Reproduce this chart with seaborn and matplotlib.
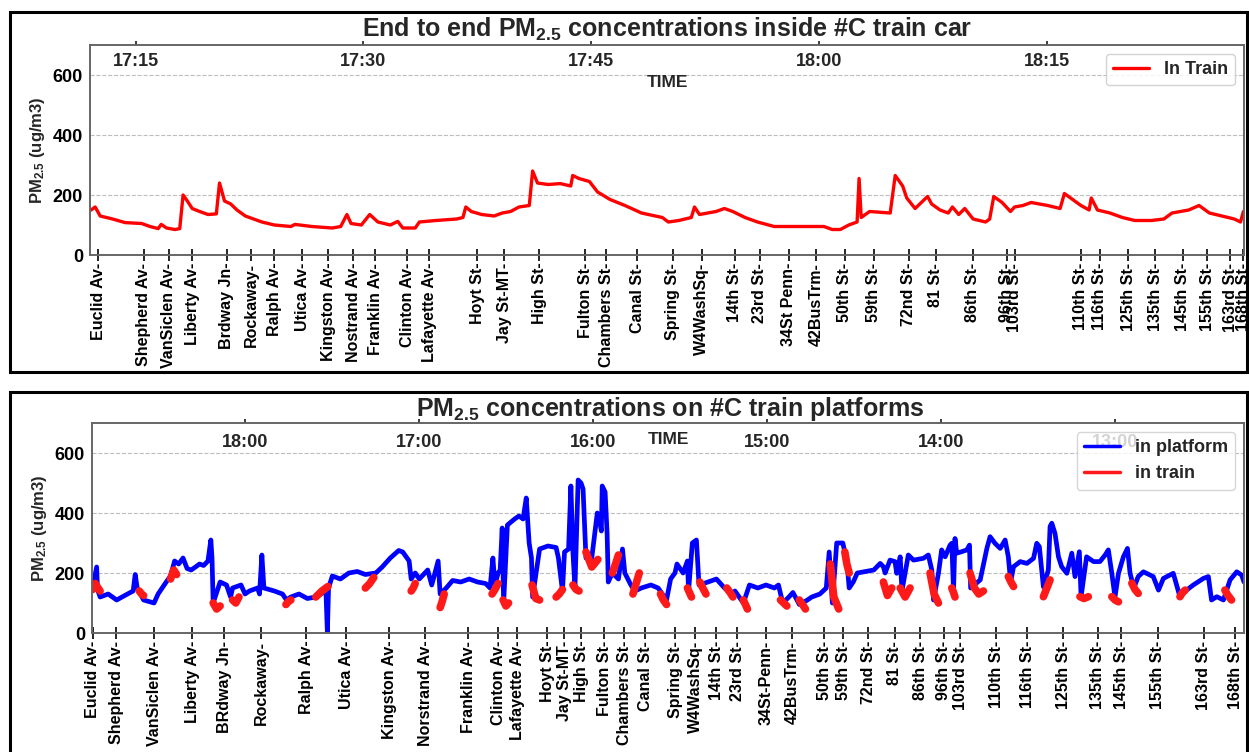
import matplotlib
matplotlib.use("Agg")
import matplotlib.pyplot as plt
import seaborn as sns
import pandas as pd
from matplotlib.patches import Rectangle

# ---------------- top panel data (minutes after 17:00) ----------------
train_min = [12.07, 12.34, 12.67, 13.49, 14.31, 15.40, 15.95, 16.49, 16.69, 17.04, 17.59, 17.91,
             18.13, 18.41, 18.73, 19.22, 19.77, 20.32, 20.53, 20.86, 21.27, 21.68, 22.23, 22.77,
             23.32, 24.14, 25.23, 25.50, 26.60, 27.96, 28.51, 28.92, 29.19, 29.87, 30.42, 30.96,
             31.78, 32.27, 32.60, 33.42, 33.69, 34.78, 36.15, 36.56, 36.75, 37.11, 37.79, 38.61,
             39.15, 39.70, 40.25, 40.93, 41.15, 41.47, 42.16, 42.98, 43.66, 43.79, 44.20, 44.89,
             45.43, 46.25, 47.23, 48.32, 49.69, 50.09, 50.78, 51.60, 51.81, 52.14, 53.23, 53.78,
             54.33, 55.14, 55.96, 57.06, 59.24, 60.33, 60.88, 61.42, 61.97, 62.52, 62.65, 62.79,
             63.34, 64.70, 65.03, 65.52, 65.79, 66.34, 67.16, 67.43, 67.98, 68.52, 68.80, 69.21,
             69.61, 70.16, 70.98, 71.25, 71.52, 72.07, 72.62, 72.89, 73.44, 73.98, 74.53, 75.07,
             75.89, 76.17, 76.71, 77.26, 77.80, 77.94, 78.35, 79.17, 79.99, 80.81, 81.90, 82.72,
             83.26, 84.36, 85.04, 85.72, 86.54, 87.36, 87.77, 87.96]
train_pm = [150, 160, 130, 120, 108, 105, 95, 88, 102, 90, 85, 88,
            200, 180, 155, 145, 135, 137, 240, 180, 170, 150, 130, 120,
            110, 100, 95, 102, 95, 90, 95, 135, 105, 100, 135, 110,
            100, 112, 90, 90, 110, 115, 120, 125, 160, 145, 135, 130,
            140, 145, 160, 165, 280, 240, 235, 238, 230, 265, 255, 245,
            210, 185, 165, 140, 125, 110, 115, 125, 160, 135, 145, 155,
            145, 125, 110, 95, 95, 95, 85, 85, 100, 110, 255, 125,
            145, 140, 265, 230, 190, 155, 195, 170, 150, 140, 160, 135,
            155, 120, 110, 120, 195, 175, 145, 160, 165, 175, 170, 165,
            155, 205, 185, 165, 150, 190, 150, 140, 125, 115, 115, 120,
            140, 150, 165, 140, 130, 120, 110, 145]

top_stations = ["Euclid Av", "Shepherd Av", "VanSiclen Av", "Liberty Av", "Brdway Jn", "Rockaway",
                "Ralph Av", "Utica Av", "Kingston Av", "Nostrand Av", "Franklin Av", "Clinton Av",
                "Lafayette Av", "Hoyt St", "Jay St-MT", "High St", "Fulton St", "Chambers St",
                "Canal St", "Spring St", "W4WashSq", "14th St", "23rd St", "34St Penn", "42BusTrm",
                "50th St", "59th St", "72nd St", "81 St", "86th St", "96th St", "103rd St",
                "110th St", "116th St", "125th St", "135th St", "145th St", "155th St",
                "163rd St", "168th St"]
top_station_min = [12.53, 15.53, 17.17, 18.75, 20.99, 22.63, 24.14, 25.99, 27.70, 29.34, 30.79,
                   32.89, 34.34, 37.50, 39.28, 41.58, 44.61, 45.99, 48.03, 50.39, 52.30, 54.47,
                   56.12, 58.03, 59.80, 61.71, 63.62, 65.92, 67.70, 70.13, 72.37, 72.89, 77.24,
                   78.49, 80.39, 82.17, 83.95, 85.59, 87.11, 87.95]
top_time_min = [15, 30, 45, 60, 75]
top_time_labels = ["17:15", "17:30", "17:45", "18:00", "18:15"]

# ---------------- bottom panel data (minutes after 12:00) ----------------
plat_min = [412.7, 411.3, 411.0, 410.1, 407.3, 404.4, 401.6, 398.7, 398.0, 397.3, 395.1, 391.5,
            390.1, 388.7, 387.3, 385.8, 384.4, 383.0, 381.5, 380.1, 378.7, 377.2, 375.8, 374.4,
            372.9, 371.9, 371.5, 371.1, 368.7, 366.5, 365.1, 364.4, 361.5, 360.1, 358.6, 355.8,
            355.1, 354.3, 353.6, 350.0, 347.2, 345.8, 344.3, 341.5, 338.6, 335.7, 332.2, 331.7,
            331.3, 330.0, 327.2, 324.3, 321.4, 318.6, 315.0, 312.8, 310.0, 307.1, 305.7, 303.5,
            302.8, 301.4, 300.0, 297.1, 295.7, 293.5, 292.8, 290.7, 288.5, 285.7, 282.8, 279.9,
            277.1, 275.6, 274.6, 273.9, 272.8, 272.1, 271.4, 270.9, 269.6, 267.1, 265.6, 264.2,
            263.1, 262.1, 261.3, 260.9, 258.5, 255.6, 252.8, 252.0, 250.6, 249.9, 248.5, 247.7,
            247.0, 246.3, 245.2, 244.2, 243.5, 242.7, 242.5, 240.5, 238.6, 237.9, 237.2, 236.9,
            235.9, 235.2, 234.8, 233.4, 231.3, 229.9, 229.1, 227.0, 225.6, 223.4, 220.1, 217.6,
            214.7, 213.3, 211.8, 211.1, 209.0, 207.5, 207.1, 205.8, 204.4, 203.5, 200.4, 197.5,
            194.7, 192.5, 191.1, 188.2, 186.1, 183.2, 180.4, 177.5, 176.1, 174.6, 172.5, 171.1,
            168.9, 166.1, 164.6, 161.8, 159.6, 158.6, 157.5, 156.0, 153.9, 152.5, 151.7, 150.3,
            148.9, 146.0, 143.2, 141.0, 139.9, 139.3, 137.6, 135.9, 135.3, 134.1, 133.5, 131.3,
            129.5, 126.1, 124.4, 123.2, 122.6, 120.9, 119.8, 118.6, 116.9, 116.3, 115.7, 115.2,
            114.6, 112.9, 111.1, 110.2, 109.8, 106.5, 104.2, 103.1, 101.4, 99.6, 97.9, 96.8,
            96.0, 95.0, 92.7, 90.4, 88.1, 87.0, 86.1, 84.7, 83.0, 82.4, 81.8, 80.7,
            79.5, 78.4, 76.6, 74.9, 73.8, 72.3, 71.7, 69.8, 67.4, 65.2, 63.4, 62.3,
            61.1, 60.0, 58.8, 57.1, 55.7, 54.8, 53.5, 52.0, 50.2, 46.8, 45.0, 43.3,
            39.9, 37.6, 35.3, 33.0, 29.5, 27.8, 26.7, 24.9, 22.6, 20.3, 18.0, 16.3, 15.5]
plat_pm = [150, 220, 145, 120, 130, 110, 125, 140, 195, 150, 110, 100,
           130, 150, 170, 190, 240, 230, 250, 215, 210, 220, 230, 225,
           240, 310, 250, 100, 170, 160, 120, 150, 160, 130, 140, 150,
           130, 260, 150, 140, 130, 110, 120, 130, 115, 120, 140, 0,
           150, 190, 180, 200, 205, 195, 200, 220, 250, 275, 270, 240,
           180, 200, 180, 210, 160, 240, 130, 150, 175, 170, 180, 170,
           165, 150, 250, 160, 200, 210, 350, 100, 360, 380, 390, 380,
           450, 300, 250, 120, 280, 290, 285, 250, 140, 270, 280, 490,
           270, 150, 510, 500, 480, 300, 250, 250, 400, 380, 340, 490,
           470, 330, 170, 200, 180, 280, 200, 160, 140, 150, 160, 150,
           110, 180, 200, 230, 200, 240, 140, 300, 310, 160, 170, 180,
           150, 130, 140, 100, 160, 150, 160, 150, 160, 100, 120, 135,
           95, 110, 120, 130, 150, 270, 100, 300, 300, 240, 150, 170,
           200, 205, 210, 232, 221, 200, 243, 238, 199, 254, 140, 260,
           243, 249, 260, 210, 110, 199, 277, 254, 293, 299, 140, 315,
           266, 271, 277, 293, 150, 177, 282, 321, 299, 282, 310, 254,
           170, 221, 238, 232, 249, 299, 288, 154, 210, 355, 366, 332,
           254, 221, 199, 266, 188, 271, 121, 254, 238, 238, 260, 277,
           199, 120, 199, 254, 282, 199, 150, 188, 204, 188, 143, 182,
           199, 121, 143, 160, 182, 188, 110, 121, 110, 177, 204, 193, 170]

ride_min = [[412.7, 411.8, 410.8, 410.1], [396.6, 395.8, 395.1], [385.8, 384.7, 383.7],
            [371.1, 369.9, 368.7], [364.4, 363.3, 362.2], [346.0, 345.1, 344.3],
            [335.7, 333.6, 331.5], [318.6, 317.1, 315.7], [302.8, 302.1, 301.4],
            [292.8, 292.1, 291.4], [274.9, 273.9, 272.8], [271.1, 270.1, 269.2],
            [261.1, 259.8, 258.5], [252.8, 251.7, 250.6], [247.0, 245.9, 244.9],
            [242.5, 240.5, 238.4], [233.4, 232.3, 231.3], [226.3, 225.2, 224.1],
            [216.8, 215.8, 214.7], [207.5, 206.8, 206.1], [203.2, 202.2, 201.1],
            [193.9, 192.8, 191.8], [188.2, 187.5, 186.8], [175.4, 174.3, 173.2],
            [168.9, 167.8, 166.8], [158.2, 157.0, 155.3], [153.2, 152.5, 151.7],
            [139.9, 138.5, 137.0], [134.1, 132.4, 130.7], [123.8, 122.4, 120.9],
            [116.3, 115.7, 115.2], [110.0, 108.5, 107.0, 105.4], [96.8, 95.9, 95.0],
            [84.7, 83.5, 82.4], [72.1, 70.7, 69.2], [61.1, 60.0, 58.8], [54.2, 53.1, 52.0],
            [37.6, 36.7, 35.8], [22.1, 21.0, 19.8]]
ride_pm = [[145, 165, 150, 140], [140, 130, 125], [180, 210, 195],
           [100, 80, 90], [110, 100, 120], [95, 105, 110],
           [120, 140, 155], [150, 165, 185], [140, 150, 165],
           [85, 105, 130], [130, 145, 165], [110, 90, 100],
           [160, 115, 110], [120, 130, 145], [160, 145, 140],
           [270, 220, 245], [200, 230, 260], [130, 165, 200],
           [130, 110, 95], [150, 135, 120], [170, 150, 130],
           [150, 135, 120], [110, 95, 80], [110, 100, 90],
           [110, 95, 80], [230, 120, 80], [270, 230, 200],
           [170, 125, 150], [150, 120, 150], [200, 130, 100],
           [150, 135, 120], [200, 150, 130, 140], [188, 170, 155],
           [121, 150, 177], [121, 115, 121], [121, 110, 104], [166, 145, 132],
           [121, 135, 143], [143, 125, 110]]

bot_stations = ["Euclid Av", "Shepherd Av", "VanSiclen Av", "Liberty Av", "BRdway Jn", "Rockaway",
                "Ralph Av", "Utica Av", "Kingston Av", "Norstrand Av", "Franklin Av", "Clinton Av",
                "Lafayette Av", "Hoyt St", "Jay St-MT", "High St", "Fulton St", "Chambers St",
                "Canal St", "Spring St", "W4WashSq", "14th St", "23rd St", "34St-Penn", "42BusTrm",
                "50th St", "59th St", "72nd St", "81 St", "86th St", "96th St", "103rd St",
                "110th St", "116th St", "125th St", "135th St", "145th St", "155th St",
                "163rd St", "168th St"]
bot_station_min = [412.7, 404.5, 391.4, 378.3, 367.2, 354.5, 339.0, 325.2, 310.3, 297.9, 283.1,
                   272.8, 266.2, 255.9, 250.0, 244.1, 236.2, 229.3, 222.1, 211.7, 204.8, 197.6,
                   190.3, 180.3, 171.4, 160.3, 153.8, 145.2, 135.9, 127.2, 119.0, 113.4, 101.0,
                   90.3, 77.9, 65.9, 57.9, 45.2, 29.3, 18.6]
bot_time_min = [360, 300, 240, 180, 120, 60]
bot_time_labels = ["18:00", "17:00", "16:00", "15:00", "14:00", "13:00"]

# ---------------- styling ----------------
sns.set_theme(style="white")
plt.rcParams["font.family"] = ["Liberation Sans", "DejaVu Sans"]
plt.rcParams["mathtext.fontset"] = "custom"
plt.rcParams["mathtext.rm"] = "Liberation Sans:bold"
plt.rcParams["mathtext.bf"] = "Liberation Sans:bold"
plt.rcParams["mathtext.default"] = "bf"

W, H = 1249, 752
fig = plt.figure(figsize=(W / 100, H / 100), dpi=100)
fig.patch.set_facecolor("white")


def fbox(l, t, r, b):
    return [l / W, 1 - b / H, (r - l) / W, (b - t) / H]


SPINE = "#666666"
GRID = "#bdbdbd"


def style_axes(ax, twin, xlim, stations, st_pos, tpos, tlabels, time_pad, time_label_y):
    ax.set_xlim(*xlim)
    ax.set_ylim(0, 700)
    ax.set_yticks([0, 200, 400, 600])
    ax.set_yticklabels(["0", "200", "400", "600"], fontsize=13, fontweight="bold")
    ax.set_xticks(st_pos)
    ax.set_xticklabels([s + "-" for s in stations], rotation=90, fontsize=11.5,
                       fontweight="bold")
    ax.tick_params(axis="x", direction="inout", length=9, width=1.2, pad=1, colors="black")
    ax.tick_params(axis="y", direction="out", length=3, width=1, pad=2, colors="black")
    ax.yaxis.grid(True, linestyle="--", color=GRID, linewidth=0.8)
    ax.xaxis.grid(False)
    ax.set_xlabel("")
    ax.set_ylabel("PM$_{2.5}$ (ug/m3)", fontsize=12, fontweight="bold", labelpad=4)
    for sp in ax.spines.values():
        sp.set_color(SPINE)
        sp.set_linewidth(1.2)
    twin.set_xlim(*xlim)
    twin.set_xticks(tpos)
    twin.set_xticklabels(tlabels, fontsize=13, fontweight="bold")
    twin.tick_params(axis="x", direction="out", length=3, pad=time_pad)
    twin.set_xlabel("TIME", fontsize=12.5, fontweight="bold")
    twin.xaxis.set_label_coords(0.5, time_label_y)
    for sp in twin.spines.values():
        sp.set_color(SPINE)
        sp.set_linewidth(1.2)


# ---------------- top panel ----------------
ax1 = fig.add_axes(fbox(90, 45, 1244, 255))
df_top = pd.DataFrame({"t": train_min, "pm": train_pm})
sns.lineplot(data=df_top, x="t", y="pm", ax=ax1, color="#ff0000", linewidth=2.4,
             estimator=None, sort=False, legend=False)
tw1 = ax1.twiny()
style_axes(ax1, tw1, (12.0, 88.0), top_stations, top_station_min,
           top_time_min, top_time_labels, -21, 0.80)
tw1.legend([ax1.lines[0]], ["In Train"], loc="upper right",
           prop={"weight": "bold", "size": 13}, framealpha=0.85, edgecolor="#cccccc")
fig.text(667 / W, 1 - 37 / H, "End to end PM$_{2.5}$ concentrations inside #C train car",
         ha="center", va="baseline", fontsize=18, fontweight="bold")

# ---------------- bottom panel ----------------
ax2 = fig.add_axes(fbox(92, 423, 1244, 633))
df_plat = pd.DataFrame({"t": plat_min, "pm": plat_pm})
sns.lineplot(data=df_plat, x="t", y="pm", ax=ax2, color="#0000ff", linewidth=3.4,
             estimator=None, sort=False, legend=False)
rows = []
for i, (ts, vs) in enumerate(zip(ride_min, ride_pm)):
    for t, v in zip(ts, vs):
        rows.append({"seg": i, "t": t, "pm": v})
df_ride = pd.DataFrame(rows)
sns.lineplot(data=df_ride, x="t", y="pm", units="seg", estimator=None, ax=ax2,
             color="#ff1a1a", linewidth=5.5, sort=False, legend=False)
tw2 = ax2.twiny()
style_axes(ax2, tw2, (412.9, 15.5), bot_stations, bot_station_min,
           bot_time_min, bot_time_labels, -23, 0.90)
leg2 = tw2.legend([ax2.lines[0], ax2.lines[1]], ["in platform", "in train"], loc="upper right",
                  prop={"weight": "bold", "size": 13}, framealpha=0.8, edgecolor="#cccccc")
for ln in leg2.get_lines():
    ln.set_linewidth(2.5)
fig.text(670 / W, 1 - 416 / H, "PM$_{2.5}$ concentrations on #C train platforms",
         ha="center", va="baseline", fontsize=18, fontweight="bold")

# ---------------- panel frames ----------------
fig.patches.append(Rectangle((10 / W, 1 - 372 / H), (1247 - 10) / W, (372 - 12) / H,
                             transform=fig.transFigure, fill=False, edgecolor="black",
                             linewidth=2.2))
fig.patches.append(Rectangle((10 / W, 1 - 770 / H), (1247 - 10) / W, (770 - 392) / H,
                             transform=fig.transFigure, fill=False, edgecolor="black",
                             linewidth=2.2))

fig.savefig("out.png", dpi=100)
